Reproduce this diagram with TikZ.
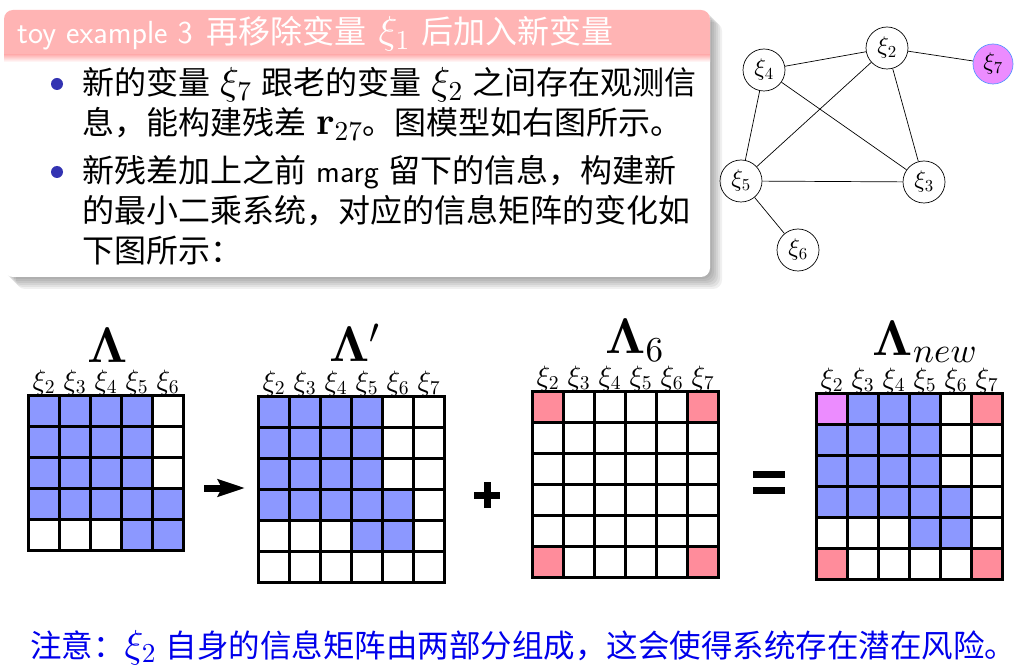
\documentclass[tikz,border=0pt]{standalone}
\usepackage{amsmath,amssymb}
\usepackage[no-math]{fontspec}
\newfontfamily\cjk{Noto Sans CJK SC}
\usetikzlibrary{arrows.meta}

% scalable Computer Modern for math
\DeclareFontFamily{OML}{xcmm}{\skewchar\font127}
\DeclareFontShape{OML}{xcmm}{m}{it}{<-> cmmi10}{}
\DeclareFontShape{OML}{xcmm}{b}{it}{<-> cmmib10}{}
\DeclareFontFamily{OT1}{xcmr}{\hyphenchar\font45}
\DeclareFontShape{OT1}{xcmr}{m}{n}{<-> cmr10}{}
\DeclareFontShape{OT1}{xcmr}{bx}{n}{<-> cmbx10}{}
\DeclareFontFamily{OMS}{xcmsy}{\skewchar\font48}
\DeclareFontShape{OMS}{xcmsy}{m}{n}{<-> cmsy10}{}
\DeclareFontShape{OMS}{xcmsy}{b}{n}{<-> cmbsy10}{}
\DeclareSymbolFont{operators}{OT1}{xcmr}{m}{n}
\DeclareSymbolFont{letters}{OML}{xcmm}{m}{it}
\DeclareSymbolFont{symbols}{OMS}{xcmsy}{m}{n}
\SetSymbolFont{operators}{bold}{OT1}{xcmr}{bx}{n}
\SetSymbolFont{letters}{bold}{OML}{xcmm}{b}{it}
\SetSymbolFont{symbols}{bold}{OMS}{xcmsy}{b}{n}
\DeclareMathAlphabet{\mathbf}{OT1}{xcmr}{bx}{n}

\definecolor{hdrpink}{RGB}{255,180,180}
\definecolor{cellblue}{RGB}{140,152,255}
\definecolor{cellpink}{RGB}{255,140,155}
\definecolor{cellviolet}{RGB}{236,140,255}
\definecolor{itemblue}{RGB}{51,51,178}
\definecolor{noteblue}{RGB}{0,0,235}
\definecolor{ringblue}{RGB}{90,150,255}

\newcommand{\zh}[1]{{\cjk #1}}
\newcommand{\mx}[1]{{\fontsize{39}{40}\selectfont$#1$}}
% the blue pattern shared by the old and new matrix
\newcommand{\oldcells}{%
  \foreach \r in {2,3} \foreach \c in {1,...,4}
    \fill[cellblue] (\c*31-31,\r*31-31) rectangle ++(31,31);
  \foreach \c in {1,...,5}
    \fill[cellblue] (\c*31-31,93) rectangle ++(31,31);
  \foreach \c in {4,5}
    \fill[cellblue] (\c*31-31,124) rectangle ++(31,31);
}
\newcommand{\gridlines}[1]{%
  \foreach \k in {0,...,#1} {
    \draw[gridline] (\k*31,0) -- (\k*31,#1*31);
    \draw[gridline] (0,\k*31) -- (#1*31,\k*31);
  }
}

\begin{document}
\begin{tikzpicture}[x=1pt,y=-1pt,
    gridline/.style={line width=3.5pt, line cap=rect},
    collabel/.style={anchor=base, inner sep=0pt, font=\fontsize{28}{30}\selectfont},
    bigname/.style={anchor=base, inner sep=0pt, font=\fontsize{50}{52}\selectfont},
    vnode/.style={draw, circle, minimum size=42pt, inner sep=0pt, line width=0.7pt, font=\fontsize{24}{26}\selectfont},
    edge/.style={line width=0.7pt},
    bodytext/.style={anchor=base west, inner sep=0pt, font=\sffamily\fontsize{32}{40}\selectfont},
    opline/.style={line width=7pt}]
  \useasboundingbox (0,0) rectangle (1023,668);
  \fill[white] (0,0) rectangle (1023,668);

  % block with shadow
  \foreach \s in {2,4,...,12}
    \fill[black, opacity=0.06, rounded corners=9pt] (4+\s,10+\s) rectangle (710+\s,277+\s);
  \fill[white, rounded corners=9pt] (4,10) rectangle (710,277);
  \fill[hdrpink, rounded corners=9pt] (4,55) |- (710,10) [sharp corners] -- (710,55) -- cycle;
  \shade[top color=hdrpink, bottom color=white] (4,55) rectangle (710,62);
  \node[bodytext, text=white] (title) at (17,44) {toy example 3\hspace{14pt}\zh{再移除变量}\hspace{12pt}\mx{\xi_1}\hspace{12pt}\zh{后加入新变量}};

  \fill[itemblue] (57,84) circle (6pt);
  \node[bodytext] (b1a) at (82,95) {\zh{新的变量} \mx{\xi_7} \zh{跟老的变量} \mx{\xi_2} \zh{之间存在观测信}};
  \node[bodytext] (b1b) at (82,135) {\zh{息，能构建残差} \mx{\mathbf{r}_{27}}\zh{。图模型如右图所示。}};
  \fill[itemblue] (57,172) circle (6pt);
  \node[bodytext] (b2a) at (82,183) {\zh{新残差加上之前} marg \zh{留下的信息，构建新}};
  \node[bodytext] (b2b) at (82,223) {\zh{的最小二乘系统，对应的信息矩阵的变化如}};
  \node[bodytext] (b2c) at (82,263) {\zh{下图所示：}};

  % graph model
  \node[vnode] (x2) at (887,48) {$\xi_2$};
  \node[vnode] (x4) at (764,70) {$\xi_4$};
  \node[vnode, fill=cellviolet, draw=ringblue, minimum size=40pt] (x7) at (993,64) {$\xi_7$};
  \node[vnode] (x5) at (741,181) {$\xi_5$};
  \node[vnode] (x3) at (924,182) {$\xi_3$};
  \node[vnode] (x6) at (798,250) {$\xi_6$};
  \draw[edge] (x4) -- (x2);
  \draw[edge] (x2) -- (x7);
  \draw[edge] (x4) -- (x5);
  \draw[edge] (x4) -- (x3);
  \draw[edge] (x2) -- (x5);
  \draw[edge] (x2) -- (x3);
  \draw[edge] (x5) -- (x3);
  \draw[edge] (x5) -- (x6);

  % Lambda
  \begin{scope}[shift={(28.5,395.5)}]
    \foreach \c in {1,...,4}
      \fill[cellblue] (\c*31-31,0) rectangle ++(31,31);
    \oldcells
    \gridlines{5}
    \foreach \c [count=\i from 2] in {1,...,5}
      \node[collabel] (lam-x\i) at (\c*31-15.5,-6) {$\xi_{\i}$};
    \node[bigname] (lam) at (79,-33) {$\mathbf{\Lambda}$};
  \end{scope}

  \coordinate (arrA) at (204,488);
  \coordinate (arrB) at (245,488);
  \draw[line width=7pt, -{Stealth[length=27pt, width=17pt, inset=4pt]}] (arrA) -- (arrB);

  % Lambda prime
  \begin{scope}[shift={(258.5,396.5)}]
    \foreach \c in {1,...,4}
      \fill[cellblue] (\c*31-31,0) rectangle ++(31,31);
    \oldcells
    \gridlines{6}
    \foreach \c [count=\i from 2] in {1,...,6}
      \node[collabel] (lamp-x\i) at (\c*31-15.5,-6) {$\xi_{\i}$};
    \node[bigname] (lamp) at (96,-35) {$\mathbf{\Lambda}'$};
  \end{scope}

  \draw[opline] (474,495) -- (500,495);
  \draw[opline] (487,482) -- (487,508);

  % Lambda 6
  \begin{scope}[shift={(532.5,391.5)}]
    \foreach \c/\r in {1/1,6/1,1/6,6/6}
      \fill[cellpink] (\c*31-31,\r*31-31) rectangle ++(31,31);
    \gridlines{6}
    \foreach \c [count=\i from 2] in {1,...,6}
      \node[collabel] (lsix-x\i) at (\c*31-15.5,-6) {$\xi_{\i}$};
    \node[bigname] (lsix) at (102,-38) {$\mathbf{\Lambda}_6$};
  \end{scope}

  \draw[opline] (753,474) -- (785,474);
  \draw[opline] (753,490) -- (785,490);

  % Lambda new
  \begin{scope}[shift={(816.5,393.5)}]
    \fill[cellviolet] (0,0) rectangle ++(31,31);
    \foreach \c in {2,3,4}
      \fill[cellblue] (\c*31-31,0) rectangle ++(31,31);
    \oldcells
    \foreach \c/\r in {6/1,1/6,6/6}
      \fill[cellpink] (\c*31-31,\r*31-31) rectangle ++(31,31);
    \gridlines{6}
    \foreach \c [count=\i from 2] in {1,...,6}
      \node[collabel] (lnew-x\i) at (\c*31-15.5,-6) {$\xi_{\i}$};
    \node[bigname] (lnew) at (108.5,-38) {$\mathbf{\Lambda}_{new}$};
  \end{scope}

  \node[bodytext, text=noteblue, font=\sffamily\fontsize{31.5}{40}\selectfont] (note) at (30,657) {\zh{注意：}\mx{\xi_2} \zh{自身的信息矩阵由两部分组成，这会使得系统存在潜在风险。}};
\end{tikzpicture}
\end{document}
